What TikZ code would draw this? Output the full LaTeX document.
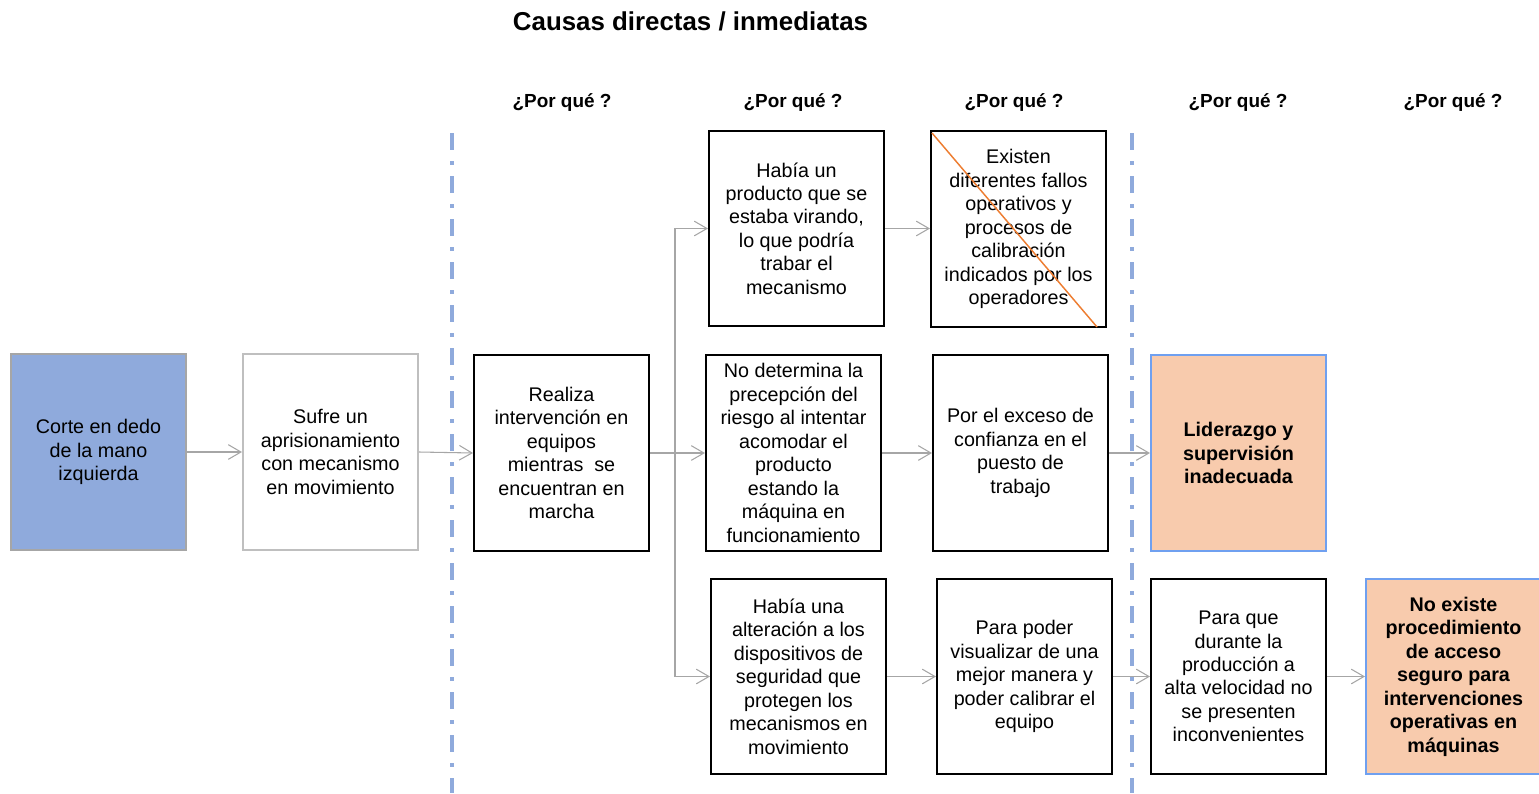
\documentclass[tikz,border=0pt]{standalone}
\usepackage{fontspec}
\setmainfont{Liberation Sans}
\usetikzlibrary{arrows.meta}
\definecolor{bluefill}{HTML}{8FAADC}
\definecolor{orangefill}{HTML}{F8CBAD}
\definecolor{blueedge}{HTML}{6FA0F0}
\definecolor{arrgray}{HTML}{A6A6A6}
\definecolor{lightedge}{HTML}{BFBFBF}
\definecolor{diag}{HTML}{ED7D31}
\tikzset{
  cbox/.style={draw=black, line width=1.5pt, minimum width=131.25pt, minimum height=147pt,
    inner sep=0pt, align=center, font=\fontsize{14.8pt}{17.6pt}\selectfont},
  bluebox/.style={cbox, draw=arrgray, fill=bluefill},
  graybox/.style={cbox, draw=lightedge},
  rootbox/.style={cbox, draw=blueedge, fill=orangefill, font=\fontsize{14.8pt}{17.6pt}\selectfont\bfseries},
  conn/.style={draw=arrgray, line width=0.8pt},
  arr/.style={conn, -{Straight Barb[length=9.5pt,width=11pt,line width=0.8pt]}},
  sep/.style={draw=bluefill, line width=3pt, dash pattern=on 12.75pt off 8.25pt on 3pt off 8.25pt},
  head/.style={font=\fontsize{14.2pt}{16pt}\selectfont\bfseries},
  title/.style={font=\fontsize{19.4pt}{22pt}\selectfont\bfseries}
}
\begin{document}
\begin{tikzpicture}[x=0.75pt,y=-0.75pt]
\useasboundingbox (0,0) rectangle (1539,793);
% separators
\draw[sep] (452,133) -- (452,793);
\draw[sep] (1132,133) -- (1132,793);
% headings
\node[title] (t) at (690.5,21) {Causas directas / inmediatas};
\node[head] (h1) at (562,103) {¿Por qué ?};
\node[head] (h2) at (793,103) {¿Por qué ?};
\node[head] (h3) at (1014,103) {¿Por qué ?};
\node[head] (h4) at (1238,103) {¿Por qué ?};
\node[head] (h5) at (1453,103) {¿Por qué ?};
% boxes
\node[bluebox] (A) at (98.5,452) {Corte en dedo\\de la mano\\izquierda};
\node[graybox] (B) at (330.5,452) {Sufre un\\aprisionamiento\\con mecanismo\\en movimiento};
\node[cbox] (C) at (561.5,453) {Realiza\\intervención en\\equipos\\mientras~ se\\encuentran en\\marcha};
\node[cbox, minimum height=146.25pt] (D1) at (796.5,228.5) {Había un\\producto que se\\estaba virando,\\lo que podría\\trabar el\\mecanismo};
\node[cbox] (E1) at (1018.5,229) {Existen\\diferentes fallos\\operativos y\\procesos de\\calibración\\indicados por los\\operadores};
\node[cbox] (D2) at (793.5,453) {No determina la\\precepción del\\riesgo al intentar\\acomodar el\\producto\\estando la\\máquina en\\funcionamiento};
\node[cbox] (E2) at (1020.5,453) {Por el exceso de\\confianza en el\\puesto de\\trabajo};
\node[rootbox] (F2) at (1238.5,453) {Liderazgo y\\supervisión\\inadecuada};
\node[cbox, minimum height=146.25pt] (D3) at (798.5,676.5) {Había una\\alteración a los\\dispositivos de\\seguridad que\\protegen los\\mecanismos en\\movimiento};
\node[cbox, minimum height=146.25pt] (E3) at (1024.5,676.5) {Para poder\\visualizar de una\\mejor manera y\\poder calibrar el\\equipo};
\node[cbox, minimum height=146.25pt] (F3) at (1238.5,676.5) {Para que\\durante la\\producción a\\alta velocidad no\\se presenten\\inconvenientes};
\node[rootbox, minimum height=146.25pt] (G3) at (1453.5,676.5) {No existe\\procedimiento\\de acceso\\seguro para\\intervenciones\\operativas en\\máquinas};
% crossed-out line
\draw[diag, line width=1.1pt] (932,133) -- (1097,327);
% connectors
\coordinate (j) at (675,453);
\draw[arr] (A) -- (B);
\draw[arr] (B.east) -- (C.west);
\draw[conn] (C.east) -- (j);
\draw[arr] (j) |- (D1.west);
\draw[arr] (j) -- (D2.west);
\draw[arr] (j) |- (D3.west);
\draw[arr] (D1.east) -- (E1.west |- D1.east);
\draw[arr] (D2) -- (E2);
\draw[arr] (E2) -- (F2);
\draw[arr] (D3) -- (E3);
\draw[arr] (E3) -- (F3);
\draw[arr] (F3) -- (G3);
\end{tikzpicture}
\end{document}
